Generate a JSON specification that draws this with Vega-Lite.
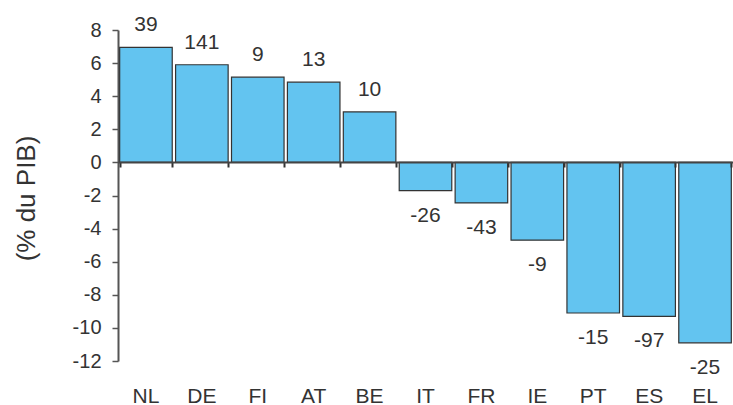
{
  "$schema": "https://vega.github.io/schema/vega-lite/v6.json",
  "autosize": "none",
  "width": 615,
  "height": 331,
  "padding": {"left": 118, "top": 30, "right": 0, "bottom": 44},
  "background": "white",
  "config": {
    "view": {"stroke": null},
    "font": "Liberation Sans",
    "text": {"font": "Liberation Sans"}
  },
  "data": {
    "values": [
      {"pays": "NL", "valeur": 6.95, "label": "39"},
      {"pays": "DE", "valeur": 5.9, "label": "141"},
      {"pays": "FI", "valeur": 5.15, "label": "9"},
      {"pays": "AT", "valeur": 4.85, "label": "13"},
      {"pays": "BE", "valeur": 3.05, "label": "10"},
      {"pays": "IT", "valeur": -1.7, "label": "-26"},
      {"pays": "FR", "valeur": -2.45, "label": "-43"},
      {"pays": "IE", "valeur": -4.7, "label": "-9"},
      {"pays": "PT", "valeur": -9.1, "label": "-15"},
      {"pays": "ES", "valeur": -9.3, "label": "-97"},
      {"pays": "EL", "valeur": -10.9, "label": "-25"}
    ]
  },
  "resolve": {"axis": {"x": "independent"}},
  "encoding": {
    "y": {
      "field": "valeur",
      "type": "quantitative",
      "scale": {"domain": [-12, 8], "nice": false},
      "axis": {
        "values": [-12, -10, -8, -6, -4, -2, 0, 2, 4, 6, 8],
        "labelExpr": "'' + datum.value",
        "labelOverlap": false,
        "title": "(% du PIB)",
        "titleFontSize": 26,
        "titleFontWeight": "normal",
        "titleColor": "#333333",
        "titleAngle": -90,
        "titleX": -92,
        "titleY": 168,
        "titleAlign": "center",
        "titleBaseline": "middle",
        "grid": false,
        "domainColor": "#555555",
        "domainWidth": 2,
        "tickColor": "#555555",
        "tickSize": 6,
        "tickWidth": 1.5,
        "labelFontSize": 20,
        "labelColor": "#333333",
        "labelPadding": 11
      }
    }
  },
  "layer": [
    {
      "mark": {"type": "bar", "color": "#63C4F0", "stroke": "#333333", "strokeWidth": 1.2},
      "encoding": {
        "x": {
          "field": "pays",
          "type": "nominal",
          "sort": null,
          "scale": {"paddingInner": 0.06, "paddingOuter": 0.03},
          "axis": {
            "title": null,
            "domain": false,
            "ticks": false,
            "labelAngle": 0,
            "labelFontSize": 21,
            "labelColor": "#333333",
            "labelBaseline": "alphabetic",
            "labelPadding": 41
          }
        }
      }
    },
    {
      "transform": [{"filter": "datum.valeur >= 0"}],
      "mark": {"type": "text", "fontSize": 21, "color": "#333333", "dy": -22, "baseline": "middle"},
      "encoding": {
        "x": {
          "field": "pays",
          "type": "nominal",
          "sort": null,
          "axis": {
            "orient": "top",
            "title": null,
            "labels": false,
            "offset": -132,
            "domain": true,
            "domainColor": "#444444",
            "domainWidth": 2,
            "ticks": true,
            "tickBand": "extent",
            "tickSize": -5,
            "tickWidth": 2,
            "tickColor": "#333333",
            "zindex": 1
          }
        },
        "text": {"field": "label"}
      }
    },
    {
      "transform": [{"filter": "datum.valeur < 0"}],
      "mark": {"type": "text", "fontSize": 21, "color": "#333333", "dy": 25, "baseline": "middle"},
      "encoding": {
        "x": {"field": "pays", "type": "nominal", "sort": null, "axis": null},
        "text": {"field": "label"}
      }
    }
  ]
}
